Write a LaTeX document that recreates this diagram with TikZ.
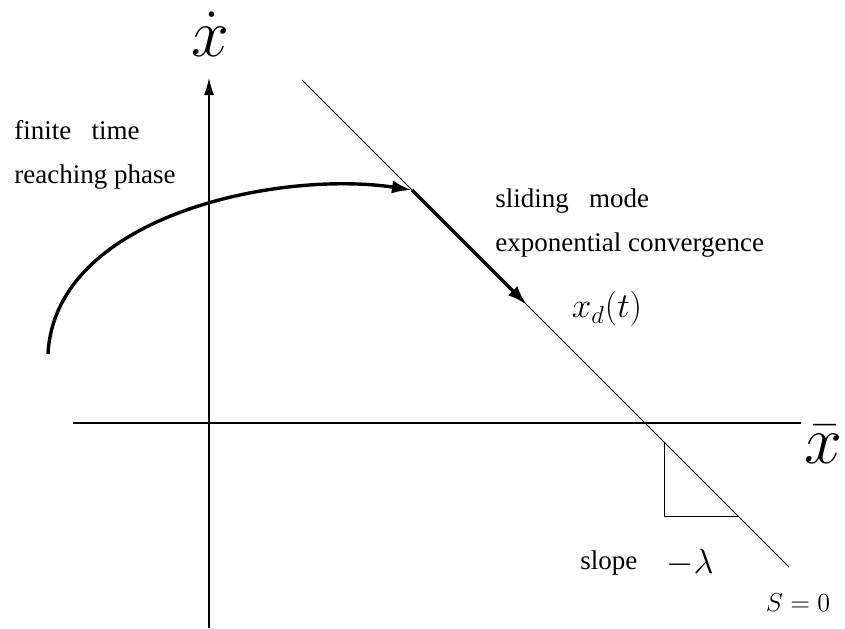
\RequirePackage{fix-cm}
\documentclass[tikz,border=0pt]{standalone}
\usepackage{fontspec}
\setmainfont{Liberation Serif}
\usetikzlibrary{arrows.meta,positioning}

\begin{document}
\begin{tikzpicture}[
  x=0.5pt, y=-0.5pt,
  axis/.style  = {line width=0.55pt},
  surf/.style  = {line width=0.4pt},
  traj/.style  = {line width=1.7pt, -{Latex[length=10pt,width=6.5pt]}},
  lbl/.style   = {inner sep=0pt, anchor=west, align=left,
                  font=\fontsize{13.5}{22}\selectfont},
  biglbl/.style= {inner sep=0pt, font=\fontsize{34}{34}\selectfont},
]
\useasboundingbox (0,0) rectangle (845,628);
% axes
\coordinate (ytop) at (209,78);
\coordinate (ybot) at (209,628);
\coordinate (xl)   at (73,423);
\coordinate (xr)   at (801,423);
\draw[axis, -{Latex[length=8.5pt,width=5pt]}] (ybot) -- (ytop);
\draw[axis] (xl) -- (xr);
\node[biglbl] (ylab) at (210,34)  {$\dot{x}$};
\node[biglbl] (xlab) at (823,444) {$\bar{x}$};
% sliding surface S=0
\coordinate (s0)  at (302,80);
\coordinate (s1)  at (789,567);
\draw[surf] (s0) -- (s1);
% slope triangle
\coordinate (ta) at (664,442);
\coordinate (tb) at (664,516);
\coordinate (tc) at (738,516);
\draw[surf] (ta) -- (tb) -- (tc);
% trajectory
\coordinate (start) at (48,354);
\coordinate (hit)   at (412,190);
\coordinate (xd)    at (527,305);
\draw[traj] (start) .. controls (55,215) and (280,170) .. (hit);
\draw[traj] (hit) -- (xd);
% labels
\node[lbl] (reach)  at (14,155)  {finite\ \ \ time\\reaching phase};
\node[lbl] (slide)  at (495,223) {sliding\ \ \ mode\\exponential convergence};
\node[inner sep=0pt, font=\fontsize{17.5}{17}\selectfont] (xdlab) at (607,309) {$x_d(t)$};
\node[lbl] (slope)  at (580,563) {slope};
\node[inner sep=0pt, font=\fontsize{17.5}{17}\selectfont] (lam) at (690,563) {$-\lambda$};
\node[inner sep=0pt, font=\fontsize{13}{13}\selectfont] (s0lab) at (798,603) {$S=0$};
\end{tikzpicture}
\end{document}
